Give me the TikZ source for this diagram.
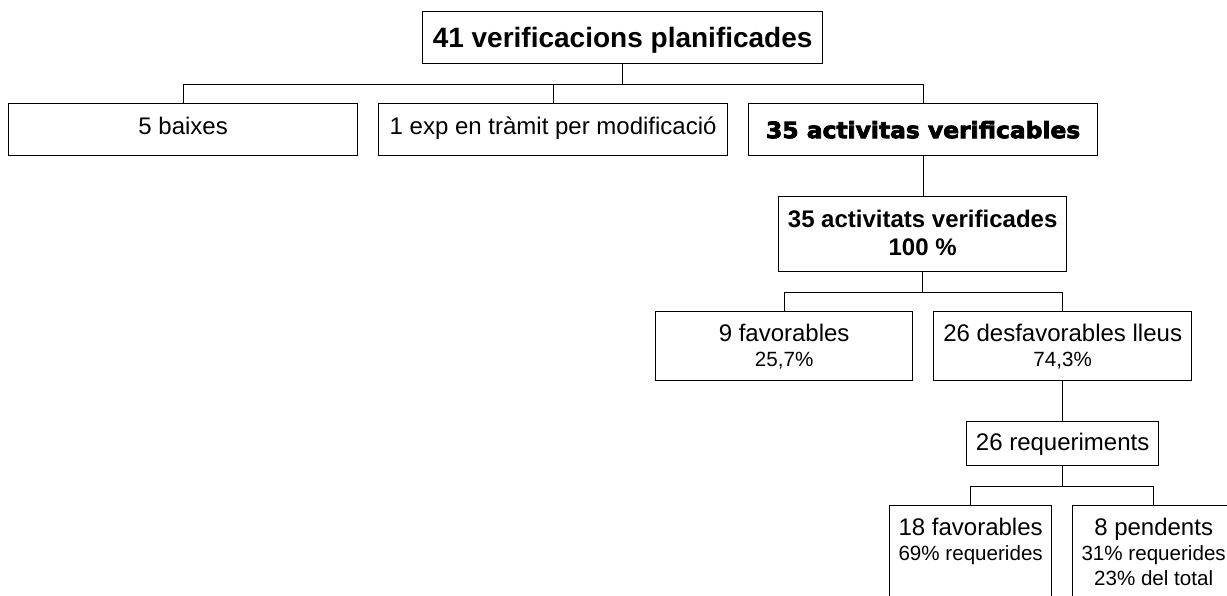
\documentclass[tikz,border=0pt]{standalone}
\usepackage{fontspec}
\setmainfont{Liberation Sans}
\newfontfamily\heavyfont[FakeBold=3.5,FakeStretch=1.04]{DejaVu Sans Bold}
\newcommand{\bxt}[4]{\parbox[t][#2pt][t]{#1pt}{\centering\rule{0pt}{#3pt}#4\par}}
\newcommand{\fmain}{\fontsize{24}{25}\selectfont}
\newcommand{\fsmall}{\fontsize{20.6}{25}\selectfont}
\tikzset{
  box/.style={draw, line width=1.3pt, inner sep=0pt, anchor=north west},
  conn/.style={line width=1.3pt}
}
\begin{document}
\begin{tikzpicture}[x=1pt,y=-1pt]
\useasboundingbox (0,0) rectangle (1227,596);
\clip (0,0) rectangle (1227,596);
\node[box] (top) at (422,11) {\bxt{400}{52}{36}{\bfseries\fontsize{28}{30}\selectfont 41 verificacions planificades}};
\node[box] (b1) at (8,103) {\bxt{349}{52}{30.5}{\fmain 5 baixes}};
\node[box] (b2) at (378,103) {\bxt{349}{52}{30.5}{\fmain 1 exp en tràmit per modificació}};
\node[box] (b3) at (748,103) {\bxt{349}{52}{34.5}{\heavyfont\fontsize{22.5}{24}\selectfont 35 activitas verificables}};
\node[box] (b4) at (778,196) {\bxt{288}{75}{31}{\bfseries\fontsize{24}{28}\selectfont 35 activitats verificades\\100 \%}};
\node[box] (b5) at (655,311) {\bxt{257}{69}{30}{\fmain 9 favorables\\\fsmall 25,7\%}};
\node[box] (b6) at (933,311) {\bxt{258}{69}{30}{\fmain 26 desfavorables lleus\\\fsmall 74,3\%}};
\node[box] (b7) at (966,421) {\bxt{192}{44}{29}{\fmain 26 requeriments}};
\node[box] (b8) at (889,505) {\bxt{162}{110}{30}{\fmain 18 favorables\\\fsmall 69\% requerides}};
\node[box] (b9) at (1072,505) {\bxt{162}{110}{30}{\fmain 8 pendents\\\fsmall 31\% requerides\\23\% del total}};
\draw[conn] (top.south) -- ++(0,20) -| (b1.north);
\draw[conn] (top.south) -- ++(0,20) -| (b2.north);
\draw[conn] (top.south) -- ++(0,20) -| (b3.north);
\draw[conn] (b3.south) -- (b3.south |- b4.north);
\draw[conn] (b4.south) -- ++(0,20) -| (b5.north);
\draw[conn] (b4.south) -- ++(0,20) -| (b6.north);
\draw[conn] (b6.south) -- (b7.north);
\draw[conn] (b7.south) -- ++(0,20) -| (b8.north);
\draw[conn] (b7.south) -- ++(0,20) -| (b9.north);
\end{tikzpicture}
\end{document}
